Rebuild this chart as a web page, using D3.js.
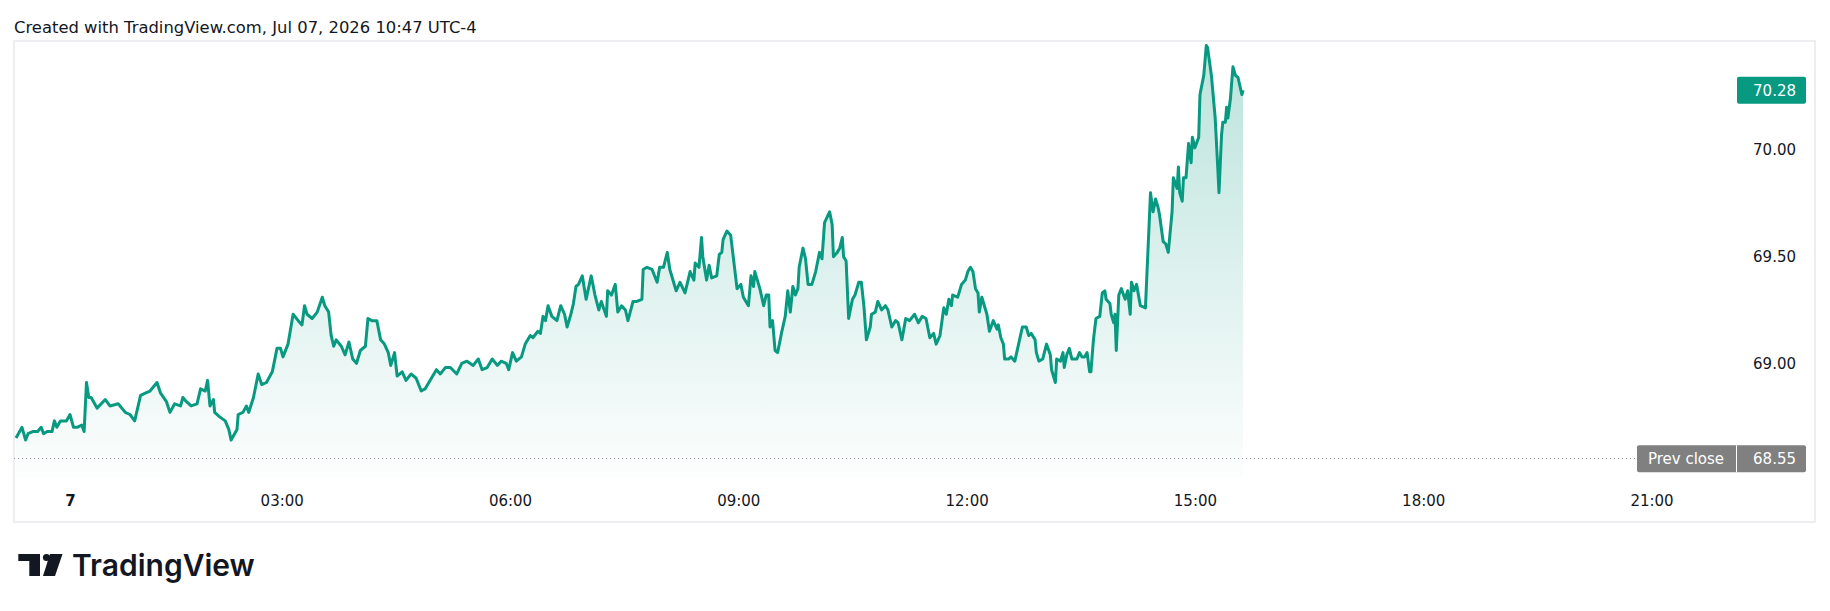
<!DOCTYPE html>
<html>
<head>
<meta charset="utf-8">
<script src="https://cdn.jsdelivr.net/npm/d3@7"></script>
<style>
  body { margin: 0; background: #fff; }
  svg { display: block; font-family: "DejaVu Sans", sans-serif; }
</style>
</head>
<body>
<svg id="chart"></svg>
<script>
// minutes from 00:00 Jul 07 (negative = previous evening)
const minutes = [
  -45,-40,-37,-35,-31,-27,-24,-22,-19,-15, -13,-11,-8,-3,0,3,6,10,12,14,
  16,18,23,30,34,41,47,51,55,60, 64,68,74,77,82,85,89,94,96,99,
  103,108,111,115,117,119,122,123,127,132, 135,137,142,143,147,150,152,156,160,163,
  167,172,176,179,181,185,189,193,196,198, 200,204,208,212,214,217,219,221,223,227,
  230,233,236,239,242,246,248,251,255,258, 261,264,266,269,271,275,278,282,286,290,
  293,298,302,305,309,313,318,322,326,331, 335,338,342,346,350,353,357,359,362,365,
  369,372,376,378,382,384,386,388,390,393, 397,400,403,405,408,410,412,414,417,420,
  424,427,430,432,436,437,440,443,445,448, 451,453,457,460,464,465,468,472,476,478,
  481,484,486,491,494,498,502,505,506,509, 511,512,515,517,519,523,525,527,528,531,
  534,536,539,542,544,548,550,552,553,557, 560,562,564,565,567,569,571,574,577,579,
  581,583,585,587,588,591,593,595,598,601, 604,606,608,612,614,615,618,620,622,623,
  625,627,630,632,635,637,639,641,644,645, 648,650,653,656,658,661,664,666,669,672,
  675,679,682,685,688,691,694,696,699,702, 704,706,708,709,713,716,719,721,723,725,
  727,729,730,732,734,736,738,741,744,745, 747,749,750,753,755,758,761,764,767,769,
  771,774,775,777,780,783,786,787,790,791, 794,796,797,799,801,803,807,809,811,813,
  815,817,818,820,822,825,827,829,830,833, 834,836,837,838,840,842,845,847,849,850,
  852,854,857,861,865,867,869,871,872,875, 877,879,882,883,886,887,888,890,891,893,
  895,897,898,900,903,904,907,909,910,913, 916,918,919,921,922,924,925,926,928,930,
  932,934,937,938
]

const prices = [
  68.65,68.70,68.64,68.67,68.68,68.68,68.70,68.67,68.68,68.68, 68.73,68.70,68.73,68.73,68.76,68.70,68.70,68.71,68.68,68.91,
  68.84,68.84,68.79,68.83,68.80,68.81,68.77,68.76,68.73,68.85, 68.86,68.87,68.91,68.86,68.82,68.77,68.81,68.80,68.84,68.82,
  68.80,68.81,68.88,68.87,68.92,68.80,68.83,68.77,68.75,68.73, 68.69,68.64,68.69,68.76,68.77,68.80,68.77,68.84,68.95,68.90,
  68.91,68.96,69.07,69.07,69.03,69.09,69.23,69.20,69.18,69.27, 69.23,69.21,69.24,69.31,69.27,69.24,69.13,69.08,69.11,69.08,
  69.04,69.10,69.02,69.00,69.06,69.08,69.21,69.20,69.20,69.11, 69.09,69.05,68.99,69.05,68.94,68.96,68.92,68.95,68.93,68.87,
  68.88,68.93,68.97,68.95,68.98,68.98,68.95,69.00,69.01,68.99, 69.02,68.97,68.98,69.02,68.99,69.01,69.00,68.97,69.05,69.01,
  69.03,69.09,69.13,69.12,69.15,69.14,69.22,69.20,69.27,69.22, 69.20,69.27,69.23,69.17,69.23,69.28,69.36,69.37,69.41,69.30,
  69.41,69.32,69.25,69.29,69.22,69.34,69.32,69.37,69.24,69.27, 69.25,69.20,69.29,69.29,69.30,69.44,69.45,69.44,69.38,69.45,
  69.45,69.52,69.44,69.34,69.38,69.33,69.43,69.39,69.47,69.45, 69.59,69.50,69.39,69.46,69.40,69.41,69.51,69.52,69.58,69.62,
  69.60,69.50,69.35,69.37,69.31,69.27,69.41,69.36,69.43,69.35, 69.27,69.32,69.32,69.17,69.20,69.06,69.05,69.14,69.22,69.34,
  69.24,69.36,69.32,69.35,69.45,69.54,69.49,69.37,69.37,69.43, 69.52,69.49,69.66,69.71,69.65,69.50,69.52,69.54,69.59,69.50,
  69.48,69.21,69.30,69.32,69.38,69.38,69.27,69.11,69.17,69.23, 69.24,69.29,69.25,69.27,69.25,69.17,69.20,69.19,69.11,69.21,
  69.20,69.23,69.19,69.22,69.21,69.12,69.14,69.09,69.13,69.26, 69.23,69.30,69.27,69.32,69.31,69.37,69.39,69.43,69.45,69.43,
  69.35,69.33,69.24,69.31,69.27,69.23,69.15,69.20,69.16,69.18, 69.12,69.09,69.02,69.02,69.03,69.01,69.09,69.17,69.17,69.13,
  69.14,69.11,69.05,69.01,69.02,69.09,69.04,68.97,68.91,69.02, 69.01,69.05,68.98,69.04,69.07,69.02,69.02,69.05,69.03,69.03,
  69.05,68.96,68.96,69.11,69.21,69.22,69.33,69.34,69.30,69.28, 69.23,69.19,69.23,69.06,69.32,69.35,69.30,69.34,69.23,69.38,
  69.34,69.37,69.27,69.26,69.80,69.71,69.77,69.73,69.70,69.57, 69.56,69.52,69.71,69.87,69.82,69.92,69.80,69.76,69.87,69.87,
  70.03,69.94,70.06,70.01,70.06,70.26,70.35,70.49,70.48,70.35, 70.15,69.92,69.80,70.07,70.13,70.13,70.20,70.15,70.24,70.39,
  70.35,70.34,70.26,70.28
]

const timeTicks = [0, 180, 360, 540, 720, 900, 1080, 1260]
const priceTicks = [69.00, 69.50, 70.00]
const prevClose = 68.55
const lastPrice = 70.28

var width = 1830,
    height = 611

var pane = { left: 14, top: 41, right: 1815, bottom: 478 }

var svg = d3.select("#chart")
    .attr("width", width)
    .attr("height", height)

var base = new Date(2026, 6, 7, 0, 0)
function toTime(m) {
    return new Date(base.getTime() + m * 60000)
}

var data = minutes.map(function (m, i) {
    return { t: toTime(m), v: prices[i] }
})

// bar-index axis is a bit tighter before 03:00
var x = d3.scaleTime()
    .domain([toTime(-45), toTime(0), toTime(180), toTime(1440)])
    .range([16, 70, 281.7, 1879.8])

var y = d3.scaleLinear()
    .domain([69, 70])
    .range([363.3, 150])

// header
svg.append("text")
    .attr("x", 14)
    .attr("y", 33)
    .attr("font-size", "16.4px")
    .attr("fill", "#131722")
    .text("Created with TradingView.com, Jul 07, 2026 10:47 UTC-4")

// frame
svg.append("rect")
    .attr("x", pane.left)
    .attr("y", pane.top)
    .attr("width", pane.right - pane.left)
    .attr("height", 481)
    .attr("fill", "none")
    .attr("stroke", "#eceef2")
    .attr("stroke-width", 2)

// gradient
var grad = svg.append("defs").append("linearGradient")
    .attr("id", "fillGrad")
    .attr("gradientUnits", "userSpaceOnUse")
    .attr("x1", 0).attr("y1", pane.top)
    .attr("x2", 0).attr("y2", pane.bottom)
grad.append("stop").attr("offset", 0).attr("stop-color", "#089981").attr("stop-opacity", 0.28)
grad.append("stop").attr("offset", 1).attr("stop-color", "#089981").attr("stop-opacity", 0.01)

var area = d3.area()
    .x(function (d) { return x(d.t) })
    .y0(pane.bottom)
    .y1(function (d) { return y(d.v) })

var line = d3.line()
    .x(function (d) { return x(d.t) })
    .y(function (d) { return y(d.v) })

svg.append("path")
    .datum(data)
    .attr("d", area)
    .attr("fill", "url(#fillGrad)")

// prev close dotted line
svg.append("line")
    .attr("x1", pane.left)
    .attr("x2", 1637)
    .attr("y1", Math.round(y(prevClose)) - 0.5)
    .attr("y2", Math.round(y(prevClose)) - 0.5)
    .attr("stroke", "#9598a1")
    .attr("stroke-width", 1)
    .attr("stroke-dasharray", "1 3")

svg.append("path")
    .datum(data)
    .attr("d", line)
    .attr("fill", "none")
    .attr("stroke", "#089981")
    .attr("stroke-width", 3)
    .attr("stroke-linejoin", "round")

// time axis
var fmt = d3.timeFormat("%H:%M")
var xAxis = d3.axisBottom(x)
    .tickValues(timeTicks.map(toTime))
    .tickSize(0)
    .tickPadding(5)
    .tickFormat(function (d) {
        return d.getHours() == 0 ? d3.timeFormat("%-d")(d) : fmt(d)
    })

var gx = svg.append("g")
    .attr("transform", "translate(0," + 490 + ")")
    .call(xAxis)
gx.select(".domain").remove()
gx.selectAll("text")
    .attr("font-size", "15px")
    .attr("font-family", "DejaVu Sans")
    .attr("fill", "#131722")
    .attr("font-weight", function (d) { return d.getHours() == 0 ? "bold" : "normal" })

// price axis
var yAxis = d3.axisRight(y)
    .tickValues(priceTicks)
    .tickSize(0)
    .tickFormat(d3.format(".2f"))

var gy = svg.append("g")
    .attr("transform", "translate(1736,0)")
    .call(yAxis)
gy.select(".domain").remove()
gy.selectAll("text")
    .attr("x", 60)
    .attr("text-anchor", "end")
    .attr("font-size", "15px")
    .attr("font-family", "DejaVu Sans")
    .attr("fill", "#131722")

// last price label
svg.append("rect")
    .attr("x", 1737)
    .attr("y", y(lastPrice) - 13.5)
    .attr("width", 69)
    .attr("height", 27)
    .attr("rx", 2)
    .attr("fill", "#089981")
svg.append("text")
    .attr("x", 1796)
    .attr("y", y(lastPrice))
    .attr("dy", "0.36em")
    .attr("text-anchor", "end")
    .attr("font-size", "15px")
    .attr("fill", "#fff")
    .text(d3.format(".2f")(lastPrice))

// prev close label
var pcY = y(prevClose)
svg.append("rect")
    .attr("x", 1637)
    .attr("y", pcY - 14)
    .attr("width", 169)
    .attr("height", 27)
    .attr("rx", 2)
    .attr("fill", "#808080")
svg.append("line")
    .attr("x1", 1736.5).attr("x2", 1736.5)
    .attr("y1", pcY - 14).attr("y2", pcY + 13)
    .attr("stroke", "#fff")
svg.append("text")
    .attr("x", 1686)
    .attr("y", pcY)
    .attr("dy", "0.32em")
    .attr("text-anchor", "middle")
    .attr("font-size", "15px")
    .attr("fill", "#fff")
    .text("Prev close")
svg.append("text")
    .attr("x", 1796)
    .attr("y", pcY)
    .attr("dy", "0.32em")
    .attr("text-anchor", "end")
    .attr("font-size", "15px")
    .attr("fill", "#fff")
    .text(d3.format(".2f")(prevClose))

// logo
var logo = svg.append("g").attr("fill", "#131722")
logo.append("path").attr("d", "M18.3,554 H40 V576 H29.3 V561 H18.3 Z")
logo.append("circle").attr("cx", 46.5).attr("cy", 557.5).attr("r", 3.6)
logo.append("path").attr("d", "M50,554 H62.5 L55,576 H43 Z")
svg.append("text")
    .attr("x", 72)
    .attr("y", 576)
    .attr("font-family", "Inter, 'Noto Sans', sans-serif")
    .attr("font-weight", 600)
    .attr("font-size", "30px")
    .attr("fill", "#131722")
    .text("TradingView")
</script>
</body>
</html>
